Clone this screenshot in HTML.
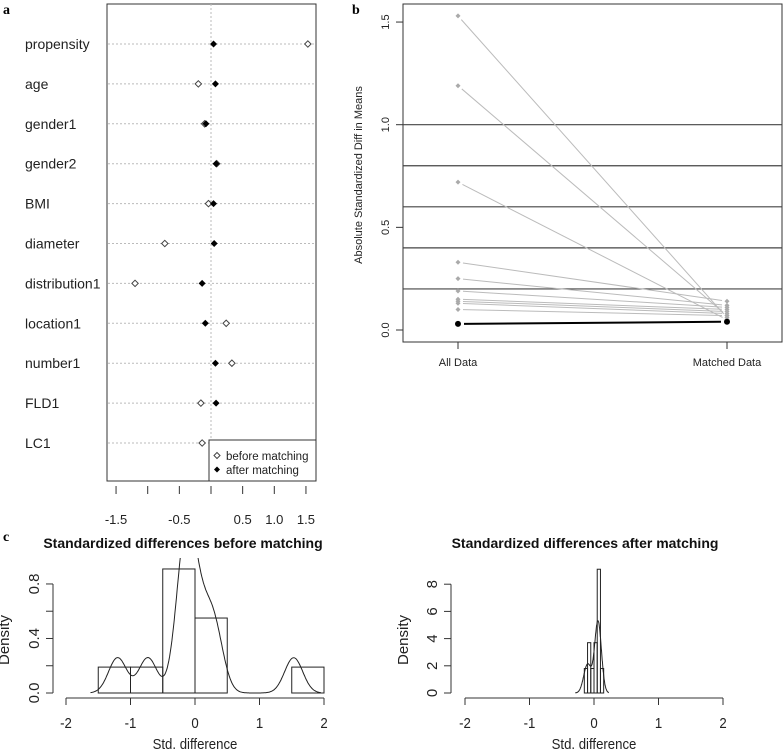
<!DOCTYPE html>
<html><head><meta charset="utf-8"><style>
body{margin:0;background:#fff}
svg{display:block;font-family:"Liberation Sans",sans-serif}
</style></head><body>
<svg id="s" width="784" height="751" viewBox="0 0 784 751" xmlns="http://www.w3.org/2000/svg">
<defs><clipPath id="cclip"><rect x="0" y="558" width="784" height="150"/></clipPath></defs>
<text x="3" y="14" font-family="Liberation Serif" font-weight="bold" font-size="14">a</text>
<text x="352" y="14" font-family="Liberation Serif" font-weight="bold" font-size="14">b</text>
<text x="3" y="541" font-family="Liberation Serif" font-weight="bold" font-size="14">c</text>
<g id="ga"></g>
<g id="gb"></g>
<g id="gc"></g>
</svg>
<script>
// Panel a data
const covariates=["propensity","age","gender1","gender2","BMI","diameter","distribution1","location1","number1","FLD1","LC1"];
const beforeVals=[1.53,-0.2,-0.1,0.09,-0.04,-0.73,-1.2,0.24,0.33,-0.16,-0.14];
const afterVals=[0.04,0.07,-0.08,0.08,0.04,0.05,-0.14,-0.09,0.07,0.08,null];
const aTicks=[-1.5,-1,-0.5,0,0.5,1,1.5];
const aTickLabels=["-1.5","","-0.5","","0.5","1.0","1.5"];
// Panel b data
const bCategories=["All Data","Matched Data"];
const bAll=[1.53,1.19,0.72,0.33,0.25,0.19,0.15,0.14,0.13,0.10];
const bMatched=[0.06,0.07,0.05,0.14,0.12,0.11,0.10,0.09,0.08,0.07];
const bMeanAll=0.03, bMeanMatched=0.04;
const bRefLines=[0.2,0.4,0.6,0.8,1.0];
const bTicks=[0,0.5,1,1.5];
// Panel c data
const cBinsBefore=[-1.5,-1,-0.5,0,0.5,1,1.5,2];
const cDensBefore=[0.19,0.19,0.91,0.55,0,0,0.19];
const cBinsAfter=[-0.15,-0.1,-0.05,0,0.05,0.1,0.15];
const cDensAfter=[1.8,3.7,1.8,3.7,9.1,1.8];
const cXTicks=[-2,-1,0,1,2];
const cYTicksBefore=[0,0.2,0.4,0.6,0.8];
const cYLabelsBefore=["0.0","","0.4","","0.8"];
const cYTicksAfter=[0,2,4,6,8];

const NS="http://www.w3.org/2000/svg";
function mk(p,tag,at){const e=document.createElementNS(NS,tag);for(const k in at)e.setAttribute(k,at[k]);p.appendChild(e);return e;}

// ---- Panel a
const ga=document.getElementById('ga');
const ax=v=>211+v*63.3, ay=i=>44+i*39.9;
let r=mk(ga,'rect',{x:107,y:4,width:209,height:477,fill:'none',stroke:'#333','stroke-width':1});

let l=mk(ga,'line',{x1:ax(0),y1:4,x2:ax(0),y2:481,stroke:'#bbb','stroke-dasharray':'2,2'});

covariates.forEach((c,i)=>{
  let g=mk(ga,'line',{x1:108,y1:ay(i),x2:315,y2:ay(i),stroke:'#bbb','stroke-dasharray':'2,2'});
  
  let t=mk(ga,'text',{x:25,y:ay(i)+5,'font-size':14,fill:'#222'});t.textContent=c;
  
  let x=ax(beforeVals[i]);
  let d=mk(ga,'path',{d:`M${x} ${ay(i)-3.2}L${x+3.2} ${ay(i)}L${x} ${ay(i)+3.2}L${x-3.2} ${ay(i)}Z`,fill:'#fff',stroke:'#444','stroke-width':1});
  
  if(afterVals[i]!==null){let x2=ax(afterVals[i]);
   let e=mk(ga,'path',{d:`M${x2} ${ay(i)-3.5}L${x2+3.5} ${ay(i)}L${x2} ${ay(i)+3.5}L${x2-3.5} ${ay(i)}Z`,fill:'#000'});
   }
});
aTicks.forEach((v,i)=>{
  let t=mk(ga,'line',{x1:ax(v),y1:486,x2:ax(v),y2:494,stroke:'#333'});
  
  if(aTickLabels[i]){let s=mk(ga,'text',{x:ax(v),y:524,'font-size':13,'text-anchor':'middle',fill:'#222'});s.textContent=aTickLabels[i];
  }
});
let lg=mk(ga,'g',{});
mk(lg,'rect',{x:209,y:440,width:107,height:41,fill:'#fff',stroke:'#333'});
mk(lg,'path',{d:'M217 452.5L220 455.5L217 458.5L214 455.5Z',fill:'#fff',stroke:'#444'});
mk(lg,'path',{d:'M217 466.5L220 469.5L217 472.5L214 469.5Z',fill:'#000'});
let t1=mk(lg,'text',{x:226,y:460,'font-size':11.5,fill:'#222'});t1.textContent='before matching';

let t2=mk(lg,'text',{x:226,y:474,'font-size':11.5,fill:'#222'});t2.textContent='after matching';


// ---- Panel b
const gb=document.getElementById('gb');
const by=v=>330-v*205.3, bx=[458,727];
r=mk(gb,'rect',{x:403,y:4,width:379,height:338,fill:'none',stroke:'#333'});

bRefLines.forEach(v=>{let e=mk(gb,'line',{x1:403,y1:by(v),x2:782,y2:by(v),stroke:'#444','stroke-width':1.2});
 });
bTicks.forEach(v=>{let e=mk(gb,'line',{x1:396,y1:by(v),x2:403,y2:by(v),stroke:'#333'});
 
 let t=mk(gb,'text',{x:0,y:0,'font-size':11,'text-anchor':'middle',fill:'#222',transform:`translate(389 ${by(v)}) rotate(-90)`});
 t.textContent=v.toFixed(1);});
let yl=mk(gb,'text',{x:0,y:0,'font-size':11,'text-anchor':'middle',fill:'#222',transform:'translate(362 175) rotate(-90)'});
yl.textContent='Absolute Standardized Diff in Means';
bCategories.forEach((c,i)=>{let e=mk(gb,'line',{x1:bx[i],y1:342,x2:bx[i],y2:349,stroke:'#333'});
 
 let t=mk(gb,'text',{x:bx[i],y:366,'font-size':11,'text-anchor':'middle',fill:'#222'});t.textContent=c;
 });
bAll.forEach((v,i)=>{
 let x1=bx[0],y1=by(v),x2=bx[1],y2=by(bMatched[i]);const dx=x2-x1,dy=y2-y1,L=Math.hypot(dx,dy),g=5;
 let e=mk(gb,'line',{x1:x1+dx*g/L,y1:y1+dy*g/L,x2:x2-dx*g/L,y2:y2-dy*g/L,stroke:'#bbb','stroke-width':1});
 
 let p=mk(gb,'path',{d:`M${x1} ${y1-2.5}L${x1+2.5} ${y1}L${x1} ${y1+2.5}L${x1-2.5} ${y1}Z`,fill:'#aaa'});
 
 let q=mk(gb,'path',{d:`M${x2} ${y2-2.5}L${x2+2.5} ${y2}L${x2} ${y2+2.5}L${x2-2.5} ${y2}Z`,fill:'#aaa'});
 
});
let ml=mk(gb,'line',{x1:bx[0]+6,y1:by(bMeanAll),x2:bx[1]-6,y2:by(bMeanMatched),stroke:'#000','stroke-width':2});

[[bx[0],bMeanAll],[bx[1],bMeanMatched]].forEach(([x,v])=>{let c=mk(gb,'circle',{cx:x,cy:by(v),r:3,fill:'#000'});
 });

// ---- Panel c
const gc=document.getElementById('gc');
function kde(vals,bw,x){let s=0;vals.forEach(v=>{const z=(x-v)/bw;s+=Math.exp(-z*z/2);});return s/(vals.length*bw*Math.sqrt(2*Math.PI));}
function hist(x0,yscale,bins,dens,yt,yl,title,tx,kvals,bw,ylab,yaxX){
 const cx=v=>x0+v*64.5, cy=v=>693-v*yscale;
 let t=mk(gc,'text',{x:tx,y:548,'font-size':14,'font-weight':'bold','text-anchor':'middle',fill:'#111'});
 t.textContent=title;
 let a=mk(gc,'line',{x1:cx(-2),y1:698,x2:cx(2),y2:698,stroke:'#333'});
 cXTicks.forEach(v=>{let e=mk(gc,'line',{x1:cx(v),y1:698,x2:cx(v),y2:705,stroke:'#333'});
  
  let s=mk(gc,'text',{x:cx(v),y:728,'font-size':15,'text-anchor':'middle',fill:'#222',transform:`translate(${cx(v)*0.12} 0) scale(0.88 1)`});
  s.textContent=String(v);});
 let xl=mk(gc,'text',{x:cx(0),y:749,'font-size':15,'text-anchor':'middle',fill:'#222',transform:`translate(${cx(0)*0.12} 0) scale(0.88 1)`});
 xl.textContent='Std. difference';
 let ya=mk(gc,'line',{x1:yaxX,y1:cy(yt[0]),x2:yaxX,y2:cy(yt[yt.length-1]),stroke:'#333'});
 yt.forEach((v,i)=>{let e=mk(gc,'line',{x1:yaxX-7,y1:cy(v),x2:yaxX,y2:cy(v),stroke:'#333'});
  
  if(yl[i]){let s=mk(gc,'text',{x:0,y:0,'font-size':15,'text-anchor':'middle',fill:'#222',transform:`translate(${yaxX-14} ${cy(v)}) rotate(-90)`});
  s.textContent=yl[i];}});
 let yt2=mk(gc,'text',{x:0,y:0,'font-size':15,'text-anchor':'middle',fill:'#222',transform:`translate(${ylab} 640) rotate(-90)`});
 yt2.textContent='Density';
 dens.forEach((d,i)=>{let b=mk(gc,'rect',{x:cx(bins[i]),y:cy(d),width:cx(bins[i+1])-cx(bins[i]),height:cy(0)-cy(d),fill:'none',stroke:'#222','stroke-width':1});
  });
 const lo=Math.min(...kvals)-3*bw,hi=Math.max(...kvals)+3*bw;let pts=[];
 for(let k=0;k<=300;k++){const x=lo+(hi-lo)*k/300;pts.push(cx(x).toFixed(1)+','+cy(kde(kvals,bw,x)).toFixed(1));}
 let p=mk(gc,'polyline',{points:pts.join(' '),fill:'none',stroke:'#222','stroke-width':1,'clip-path':'url(#cclip)'});
 
}
hist(195,136.3,cBinsBefore,cDensBefore,cYTicksBefore,cYLabelsBefore,'Standardized differences before matching',183,beforeVals,0.14,9,53);
hist(594,13.6,cBinsAfter,cDensAfter,cYTicksAfter,["0","2","4","6","8"],'Standardized differences after matching',585,afterVals.filter(v=>v!==null),0.05,408,451);
</script>
</body></html>
